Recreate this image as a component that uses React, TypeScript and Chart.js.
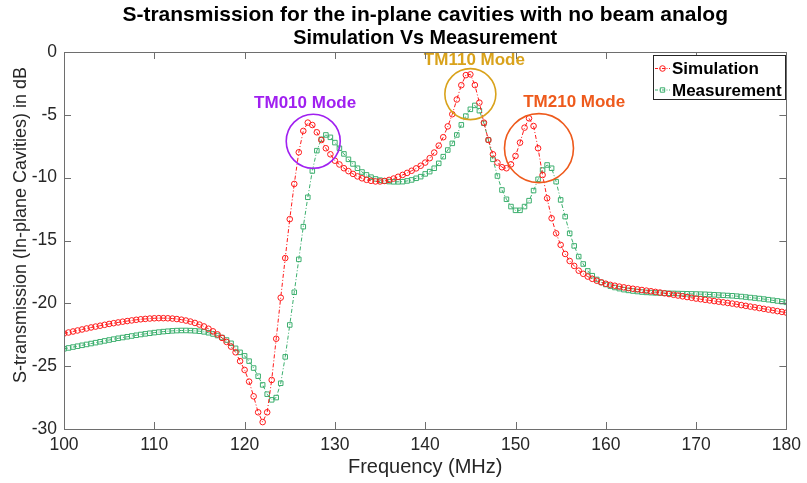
import React, { useEffect, useRef } from "react";
import { Chart, registerables } from "chart.js";

Chart.register(...registerables);

// Frequency sweep: 100 MHz to 180 MHz in 0.5 MHz steps
const FREQ_START_MHZ = 100;
const FREQ_STEP_MHZ = 0.5;

// S-transmission (dB), simulation
const simulationDb = [
  -22.40, -22.32, -22.24, -22.16, -22.08, -22.00, -21.92, -21.85, -21.78, -21.71,
  -21.64, -21.58, -21.52, -21.46, -21.41, -21.36, -21.31, -21.27, -21.24, -21.21,
  -21.19, -21.18, -21.18, -21.19, -21.21, -21.25, -21.30, -21.37, -21.45, -21.56,
  -21.69, -21.84, -22.02, -22.23, -22.47, -22.75, -23.07, -23.44, -23.90, -24.60,
  -25.30, -26.23, -27.40, -28.67, -29.45, -28.67, -26.10, -22.82, -19.55, -16.40,
  -13.30, -10.50, -7.98, -6.28, -5.62, -5.81, -6.39, -7.00, -7.66, -8.14,
  -8.65, -8.95, -9.25, -9.48, -9.70, -9.90, -10.05, -10.17, -10.25, -10.30,
  -10.30, -10.26, -10.18, -10.07, -9.93, -9.78, -9.62, -9.45, -9.26, -9.05,
  -8.80, -8.45, -8.00, -7.45, -6.78, -5.92, -4.95, -3.78, -2.64, -1.84,
  -1.78, -2.63, -4.03, -5.62, -7.00, -8.14, -8.80, -9.17, -9.25, -8.94,
  -8.27, -7.21, -6.02, -5.28, -5.89, -7.66, -9.79, -11.64, -13.23, -14.43,
  -15.35, -16.07, -16.63, -17.02, -17.40, -17.65, -17.87, -18.05, -18.20, -18.33,
  -18.44, -18.53, -18.60, -18.67, -18.73, -18.79, -18.84, -18.89, -18.94, -18.99,
  -19.04, -19.09, -19.14, -19.20, -19.26, -19.32, -19.38, -19.44, -19.50, -19.56,
  -19.62, -19.67, -19.72, -19.77, -19.82, -19.87, -19.92, -19.97, -20.02, -20.08,
  -20.14, -20.20, -20.26, -20.32, -20.38, -20.44, -20.50, -20.56, -20.62, -20.68,
  -20.74,
];

// S-transmission (dB), measurement
const measurementDb = [
  -23.62, -23.55, -23.48, -23.41, -23.34, -23.27, -23.20, -23.13, -23.06, -22.99,
  -22.92, -22.85, -22.78, -22.72, -22.66, -22.60, -22.54, -22.48, -22.43, -22.38,
  -22.33, -22.29, -22.25, -22.22, -22.19, -22.17, -22.16, -22.16, -22.17, -22.19,
  -22.22, -22.27, -22.34, -22.44, -22.56, -22.72, -22.92, -23.18, -23.58, -23.90,
  -24.18, -24.60, -25.15, -25.80, -26.49, -27.23, -27.68, -27.50, -26.36, -24.26,
  -21.72, -19.12, -16.50, -13.90, -11.56, -9.47, -7.85, -6.95, -6.60, -6.79,
  -7.21, -7.66, -8.11, -8.54, -8.91, -9.25, -9.55, -9.78, -9.96, -10.10,
  -10.20, -10.27, -10.31, -10.33, -10.33, -10.32, -10.26, -10.18, -10.05, -9.92,
  -9.70, -9.52, -9.25, -8.86, -8.33, -7.80, -7.27, -6.60, -5.80, -5.10,
  -4.56, -4.25, -4.67, -5.67, -7.00, -8.54, -9.87, -10.98, -11.72, -12.30,
  -12.60, -12.60, -12.30, -11.83, -11.03, -10.13, -9.39, -8.99, -9.25, -10.32,
  -11.77, -13.10, -14.43, -15.43, -16.28, -16.87, -17.42, -17.80, -18.10, -18.33,
  -18.50, -18.63, -18.74, -18.83, -18.91, -18.97, -19.02, -19.06, -19.10, -19.13,
  -19.15, -19.17, -19.18, -19.19, -19.20, -19.21, -19.22, -19.23, -19.24, -19.25,
  -19.26, -19.27, -19.28, -19.30, -19.32, -19.34, -19.36, -19.38, -19.40, -19.43,
  -19.46, -19.50, -19.54, -19.58, -19.62, -19.66, -19.71, -19.76, -19.81, -19.86,
  -19.92,
];

const frequencyMHz = simulationDb.map((_, i) => FREQ_START_MHZ + i * FREQ_STEP_MHZ);

const xTickValues = [100, 110, 120, 130, 140, 150, 160, 170, 180];
const yTickValues = [0, -5, -10, -15, -20, -25, -30];

const seriesNames = ["Simulation", "Measurement"];

const titleLines = [
  "S-transmission for the in-plane cavities with no beam analog",
  "Simulation Vs Measurement",
];
const xAxisLabel = "Frequency (MHz)";
const yAxisLabel = "S-transmission (In-plane Cavities) in dB";

// Resonance mode call-outs (circle centre and label anchor in data units)
const modeNames = ["TM010 Mode", "TM110 Mode", "TM210 Mode"];
const modeCircleMHz = [127.6, 145.0, 152.6];
const modeCircleDb = [-7.1, -3.35, -7.65];
const modeLabelMHz = [126.7, 145.45, 156.5];
const modeLabelDb = [-4.05, -0.64, -3.98];

// styling
const FONT = '"Liberation Sans", Arial, Helvetica, sans-serif';
const RED = "#ff1a1a";
const GREEN = "rgb(60,175,110)";
const AXIS_COLOR = "#6e6e6e";
const TEXT_COLOR = "#262626";
const modeColors = ["#a020f0", "#d9a21b", "#ee5a1c"];
const modeRadiusPx = [27, 25.5, 34.5];

const overlayPlugin = {
  id: "overlay",
  afterDatasetsDraw(chart: any) {
    const { ctx } = chart;
    const xs = chart.scales.x;
    const ys = chart.scales.y;
    ctx.save();
    // mode circles and labels
    modeNames.forEach((name, i) => {
      const cx = xs.getPixelForValue(modeCircleMHz[i]);
      const cy = ys.getPixelForValue(modeCircleDb[i]);
      ctx.beginPath();
      ctx.arc(cx, cy, modeRadiusPx[i], 0, Math.PI * 2);
      ctx.strokeStyle = modeColors[i];
      ctx.lineWidth = 1.6;
      ctx.stroke();
      ctx.fillStyle = modeColors[i];
      ctx.font = `bold 17px ${FONT}`;
      ctx.textAlign = "center";
      ctx.textBaseline = "middle";
      ctx.fillText(name, xs.getPixelForValue(modeLabelMHz[i]), ys.getPixelForValue(modeLabelDb[i]));
    });
    ctx.restore();
  },
  afterDraw(chart: any) {
    const { ctx, chartArea } = chart;
    const { left, right, top, bottom } = chartArea;
    const xs = chart.scales.x;
    const ys = chart.scales.y;
    ctx.save();
    // axes box
    ctx.strokeStyle = AXIS_COLOR;
    ctx.lineWidth = 1;
    ctx.strokeRect(Math.round(left) + 0.5, Math.round(top) + 0.5, Math.round(right - left), Math.round(bottom - top));
    // inward ticks
    const tl = 7;
    ctx.beginPath();
    xTickValues.forEach((v) => {
      const px = Math.round(xs.getPixelForValue(v)) + 0.5;
      ctx.moveTo(px, bottom);
      ctx.lineTo(px, bottom - tl);
      ctx.moveTo(px, top);
      ctx.lineTo(px, top + tl);
    });
    yTickValues.forEach((v) => {
      const py = Math.round(ys.getPixelForValue(v)) + 0.5;
      ctx.moveTo(left, py);
      ctx.lineTo(left + tl, py);
      ctx.moveTo(right, py);
      ctx.lineTo(right - tl, py);
    });
    ctx.stroke();

    // title
    ctx.fillStyle = "#000";
    ctx.font = `bold 21px ${FONT}`;
    ctx.textAlign = "center";
    ctx.textBaseline = "middle";
    const midX = (left + right) / 2;
    ctx.fillText(titleLines[0], midX, 15, 610);
    ctx.fillText(titleLines[1], midX, 38, 264);

    // axis labels
    ctx.fillStyle = TEXT_COLOR;
    ctx.font = `20px ${FONT}`;
    ctx.fillText(xAxisLabel, midX, 467);
    ctx.font = `18px ${FONT}`;
    ctx.save();
    ctx.translate(21, 225);
    ctx.rotate(-Math.PI / 2);
    ctx.fillText(yAxisLabel, 0, 0);
    ctx.restore();

    // legend
    const lx = 653, ly = 55, lw = 132, lh = 44;
    ctx.fillStyle = "#fff";
    ctx.fillRect(lx, ly, lw, lh);
    ctx.strokeStyle = "#262626";
    ctx.lineWidth = 1;
    ctx.strokeRect(lx + 0.5, ly + 0.5, lw, lh);
    const rows = [ly + 13.5, ly + 35];
    const colors = [RED, GREEN];
    rows.forEach((ry, i) => {
      ctx.strokeStyle = colors[i];
      ctx.setLineDash([3, 1.5, 1, 1.5]);
      ctx.beginPath();
      ctx.moveTo(lx + 2, ry);
      ctx.lineTo(lx + 17, ry);
      ctx.stroke();
      ctx.setLineDash([]);
      ctx.beginPath();
      if (i === 0) {
        ctx.arc(lx + 9.5, ry, 2.8, 0, Math.PI * 2);
      } else {
        ctx.rect(lx + 7.3, ry - 2.2, 4.4, 4.4);
      }
      ctx.stroke();
      ctx.fillStyle = "#000";
      ctx.font = `bold 17px ${FONT}`;
      ctx.textAlign = "left";
      ctx.textBaseline = "middle";
      ctx.fillText(seriesNames[i], lx + 19, ry + 1);
    });
    ctx.restore();
  },
};

export default function App() {
  const canvasRef = useRef<HTMLCanvasElement | null>(null);

  useEffect(() => {
    document.body.style.margin = "0";
    const canvas = canvasRef.current;
    if (!canvas) return;
    const chart = new Chart(canvas, {
      type: "line",
      data: {
        datasets: [
          {
            label: seriesNames[0],
            data: frequencyMHz.map((f, i) => ({ x: f, y: simulationDb[i] })),
            borderColor: RED,
            borderWidth: 1,
            borderDash: [4, 2, 1, 2],
            pointStyle: "circle",
            pointRadius: 2.8,
            pointBorderWidth: 1,
            pointBorderColor: RED,
            pointBackgroundColor: "rgba(0,0,0,0)",
            fill: false,
            tension: 0,
            order: 1,
          },
          {
            label: seriesNames[1],
            data: frequencyMHz.map((f, i) => ({ x: f, y: measurementDb[i] })),
            borderColor: GREEN,
            borderWidth: 1,
            borderDash: [4, 2, 1, 2],
            pointStyle: "rect",
            pointRadius: 3.2,
            pointBorderWidth: 1,
            pointBorderColor: GREEN,
            pointBackgroundColor: "rgba(0,0,0,0)",
            fill: false,
            tension: 0,
            order: 2,
          },
        ],
      },
      options: {
        animation: false,
        responsive: false,
        devicePixelRatio: 1,
        layout: { padding: { top: 52, right: 17, left: 0, bottom: 0 } },
        plugins: {
          legend: { display: false },
          title: { display: false },
          tooltip: { enabled: false },
        },
        scales: {
          x: {
            type: "linear",
            min: 100,
            max: 180,
            grid: { display: false, drawTicks: false },
            border: { display: false },
            afterFit: (s: any) => {
              s.height = 54;
            },
            afterBuildTicks: (s: any) => {
              s.ticks = xTickValues.map((v) => ({ value: v }));
            },
            ticks: {
              padding: 6,
              color: TEXT_COLOR,
              font: { family: FONT, size: 17.5 },
              maxRotation: 0,
            },
          },
          y: {
            type: "linear",
            min: -30,
            max: 0,
            grid: { display: false, drawTicks: false },
            border: { display: false },
            afterFit: (s: any) => {
              s.width = 64;
            },
            afterBuildTicks: (s: any) => {
              s.ticks = yTickValues.map((v) => ({ value: v }));
            },
            ticks: {
              padding: 7,
              color: TEXT_COLOR,
              font: { family: FONT, size: 17.5 },
            },
          },
        },
      },
      plugins: [overlayPlugin],
    });
    return () => chart.destroy();
  }, []);

  return (
    <div style={{ position: "fixed", left: 0, top: 0, width: 807, height: 483, background: "#fff" }}>
      <canvas ref={canvasRef} width={807} height={483} />
    </div>
  );
}
